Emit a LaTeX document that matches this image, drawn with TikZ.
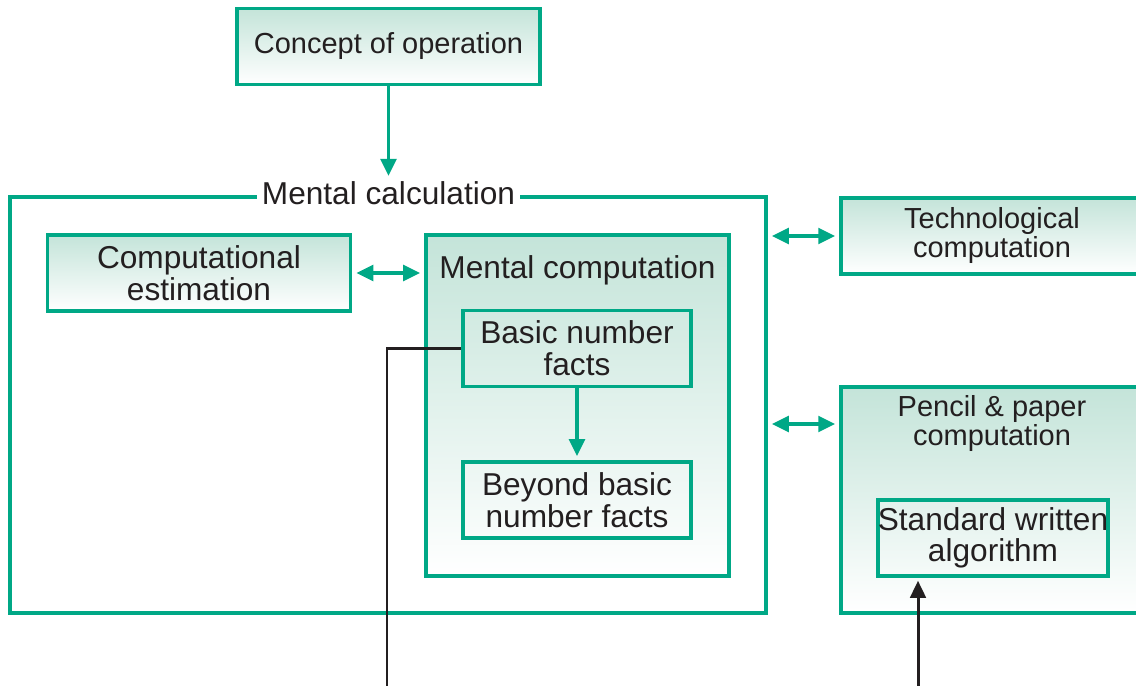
\documentclass[tikz,border=0pt]{standalone}
\usepackage{fontspec}
\setmainfont{Liberation Sans}
\usetikzlibrary{arrows.meta, positioning}
\definecolor{edgegreen}{RGB}{0,168,134}
\definecolor{topteal}{RGB}{196,228,217}
\definecolor{inktext}{RGB}{35,31,32}

\begin{document}
\begin{tikzpicture}[
                > = {Triangle[length = 3.4mm, width = 3.1mm]}, % arrow head style
                line width = 2pt % line style
            ]

            \tikzstyle{every node}=[text = inktext, align = center, inner sep = 0pt]
            \tikzstyle{bigtext}=[font = \fontsize{18}{18}\selectfont]
            \tikzstyle{smalltext}=[font = \fontsize{16.5}{16.5}\selectfont]
            \tikzstyle{box}=[draw = edgegreen, rectangle, top color = topteal,
                bottom color = white, minimum width = 6.06cm, minimum height = 1.52cm]
            \tikzstyle{inbox}=[draw = edgegreen, rectangle, minimum width = 4.56cm,
                minimum height = 1.52cm, bigtext]
            \tikzstyle{link}=[edgegreen, shorten < = 0.08cm, shorten > = 0.08cm]
            \tikzstyle{feed}=[inktext, line width = 1.7pt]

            \clip (0,0) rectangle (22.72,13.72);

            \node (concept) [box, smalltext] at (7.77,12.79) {Concept of operation};
            \node (calc) [draw = edgegreen, rectangle, minimum width = 15.12cm,
                minimum height = 8.32cm] at (7.76,5.62) {};
            \node (calctitle) [bigtext, fill = white, inner xsep = 0.1cm,
                inner ysep = 2pt] at (7.77,9.86) {Mental calculation};
            \node (estim) [box, bigtext] at (3.98,8.26) {Computational\\estimation};
            \node (mcomp) [box, minimum height = 6.82cm] at (11.55,5.61) {};
            \node (mctitle) [bigtext] at (11.55,8.32) {Mental computation};
            \node (basic) [inbox] at (11.54,6.75) {Basic number\\facts};
            \node (beyond) [inbox] at (11.54,3.72) {Beyond basic\\number facts};
            \node (techno) [box, smalltext, minimum width = 6.04cm] at (19.84,9.0)
                {Technological\\computation};
            \node (pencil) [box, minimum width = 6.04cm, minimum height = 4.52cm]
                at (19.84,3.72) {};
            \node (penciltitle) [smalltext] at (19.84,5.24) {Pencil \& paper\\computation};
            \node (written) [inbox] at (19.86,2.96) {Standard written\\algorithm};

            \coordinate (calltop) at (7.77,10.2);
            \coordinate (factsdrop) at (7.74,0);
            \coordinate (algofeed) at (18.36,0);

            \path[->, edgegreen] (concept) edge (calltop);
            \path[<->, link] (estim.east) edge (estim -| mcomp.west);
            \path[<->, link] (calc.east |- techno) edge (techno.west);
            \path[<->, link] (calc.east |- penciltitle) edge (pencil.west |- penciltitle);
            \path[->, link, shorten < = 0pt] (basic) edge (beyond);

            \draw[feed] (basic.west) -| (factsdrop);
            \draw[->, feed, shorten > = 0.06cm] (algofeed) -- (algofeed |- written.south);

        \end{tikzpicture}
\end{document}
